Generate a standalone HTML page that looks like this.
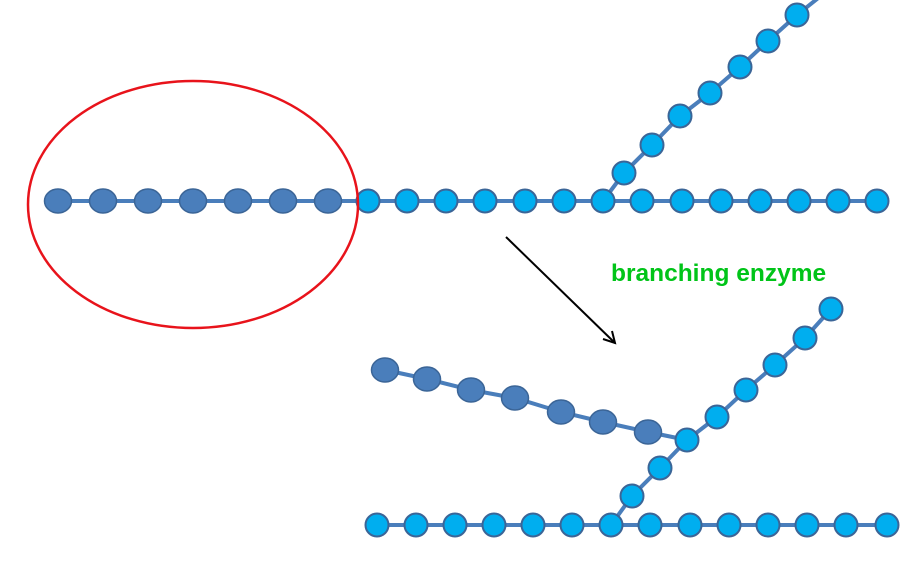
<!DOCTYPE html>
<html><head><meta charset="utf-8"><style>html,body{margin:0;padding:0;background:#fff;}svg{display:block}</style></head>
<body>
<svg width="917" height="571" viewBox="0 0 917 571" xmlns="http://www.w3.org/2000/svg">
<g stroke="#4a7ebb" stroke-width="4" fill="none">
<line x1="58" y1="201" x2="877" y2="201"/>
<polyline points="603,201 624,173 652,145 680,116 710,93 740,67 768,41 797,15 822,-5"/>
<line x1="377" y1="525" x2="899" y2="525"/>
<polyline points="611,525 632,496 660,468 687,440 717,417 746,390 775,365 805,338 831,309"/>
<polyline points="385,370 427,379 471,390 515,398 561,412 603,422 648,432 687,440"/>
</g>
<g fill="#4a7ebb" stroke="#3b6597" stroke-width="1.5">
<ellipse cx="58" cy="201" rx="13.5" ry="12"/>
<ellipse cx="103" cy="201" rx="13.5" ry="12"/>
<ellipse cx="148" cy="201" rx="13.5" ry="12"/>
<ellipse cx="193" cy="201" rx="13.5" ry="12"/>
<ellipse cx="238" cy="201" rx="13.5" ry="12"/>
<ellipse cx="283" cy="201" rx="13.5" ry="12"/>
<ellipse cx="328" cy="201" rx="13.5" ry="12"/>
<ellipse cx="385" cy="370" rx="13.5" ry="12"/>
<ellipse cx="427" cy="379" rx="13.5" ry="12"/>
<ellipse cx="471" cy="390" rx="13.5" ry="12"/>
<ellipse cx="515" cy="398" rx="13.5" ry="12"/>
<ellipse cx="561" cy="412" rx="13.5" ry="12"/>
<ellipse cx="603" cy="422" rx="13.5" ry="12"/>
<ellipse cx="648" cy="432" rx="13.5" ry="12"/>
</g>
<g fill="#00aeef" stroke="#3b6597" stroke-width="2">
<circle cx="368" cy="201" r="11.5"/><circle cx="407" cy="201" r="11.5"/><circle cx="446" cy="201" r="11.5"/><circle cx="485" cy="201" r="11.5"/><circle cx="525" cy="201" r="11.5"/><circle cx="564" cy="201" r="11.5"/><circle cx="603" cy="201" r="11.5"/><circle cx="642" cy="201" r="11.5"/><circle cx="682" cy="201" r="11.5"/><circle cx="721" cy="201" r="11.5"/><circle cx="760" cy="201" r="11.5"/><circle cx="799" cy="201" r="11.5"/><circle cx="838" cy="201" r="11.5"/><circle cx="877" cy="201" r="11.5"/>
<circle cx="624" cy="173" r="11.5"/><circle cx="652" cy="145" r="11.5"/><circle cx="680" cy="116" r="11.5"/><circle cx="710" cy="93" r="11.5"/><circle cx="740" cy="67" r="11.5"/><circle cx="768" cy="41" r="11.5"/><circle cx="797" cy="15" r="11.5"/>
<circle cx="377" cy="525" r="11.5"/><circle cx="416" cy="525" r="11.5"/><circle cx="455" cy="525" r="11.5"/><circle cx="494" cy="525" r="11.5"/><circle cx="533" cy="525" r="11.5"/><circle cx="572" cy="525" r="11.5"/><circle cx="611" cy="525" r="11.5"/><circle cx="650" cy="525" r="11.5"/><circle cx="690" cy="525" r="11.5"/><circle cx="729" cy="525" r="11.5"/><circle cx="768" cy="525" r="11.5"/><circle cx="807" cy="525" r="11.5"/><circle cx="846" cy="525" r="11.5"/><circle cx="887" cy="525" r="11.5"/>
<circle cx="632" cy="496" r="11.5"/><circle cx="660" cy="468" r="11.5"/><circle cx="687" cy="440" r="11.5"/><circle cx="717" cy="417" r="11.5"/><circle cx="746" cy="390" r="11.5"/><circle cx="775" cy="365" r="11.5"/><circle cx="805" cy="338" r="11.5"/><circle cx="831" cy="309" r="11.5"/>
</g>
<ellipse cx="193" cy="204.5" rx="165" ry="123.5" fill="none" stroke="#e8131b" stroke-width="2.5"/>
<g stroke="#000" stroke-width="2" fill="none">
<line x1="506" y1="237" x2="615" y2="343"/>
<polyline points="603,339 615,343 612,331"/>
</g>
<text x="611" y="281" font-family="Liberation Sans, sans-serif" font-weight="bold" font-size="24.5" fill="#00c418">branching enzyme</text>
</svg>
</body></html>
